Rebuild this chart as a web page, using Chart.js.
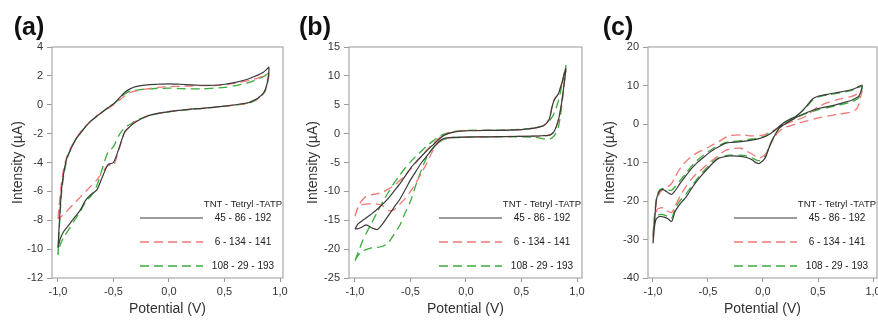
<!DOCTYPE html>
<html>
<head>
<meta charset="utf-8">
<script src="https://cdn.jsdelivr.net/npm/chart.js@4.4.1/dist/chart.umd.min.js"></script>
<style>
  body { margin: 0; background: #fff; }
  #wrap { position: relative; width: 878px; height: 320px; overflow: hidden; }
  canvas { position: absolute; top: 0; }
</style>
</head>
<body>
<div id="wrap">
  <canvas id="chartA" width="290" height="320" style="left:0px"></canvas>
  <canvas id="chartB" width="300" height="320" style="left:288px"></canvas>
  <canvas id="chartC" width="294" height="320" style="left:584px"></canvas>
</div>
<script>
// legend entries (TNT - Tetryl - TATP concentrations)
const legendTitle = 'TNT - Tetryl -TATP';
const seriesLabels = ['45 - 86 - 192', '6 - 134 - 141', '108 - 29 - 193'];

const xTicks = [-1, -0.5, 0, 0.5, 1];
const yTicksA = [-12, -10, -8, -6, -4, -2, 0, 2, 4];
const yTicksB = [-25, -20, -15, -10, -5, 0, 5, 10, 15];
const yTicksC = [-40, -30, -20, -10, 0, 10, 20];

// panel (a): potential sweep (V), forward then back
const potentialA = [-1.0, -0.99, -0.97, -0.95, -0.92, -0.88, -0.84, -0.8, -0.75, -0.7, -0.65, -0.6, -0.55, -0.5, -0.45, -0.4, -0.35, -0.3, -0.2, -0.1, 0, 0.1, 0.2, 0.3, 0.4, 0.5, 0.6, 0.7, 0.75, 0.8, 0.85, 0.88, 0.9,
  0.89, 0.87, 0.85, 0.8, 0.75, 0.7, 0.6, 0.5, 0.4, 0.3, 0.2, 0.1, 0, -0.1, -0.2, -0.3, -0.35, -0.4, -0.45, -0.5, -0.55, -0.6, -0.65, -0.7, -0.75, -0.8, -0.85, -0.9, -0.95, -0.98, -1.0];
const currentA1 = [-9.9, -8.5, -6.0, -4.8, -3.7, -3.0, -2.4, -2.0, -1.5, -1.1, -0.8, -0.5, -0.2, 0.05, 0.45, 0.85, 1.1, 1.25, 1.38, 1.42, 1.45, 1.42, 1.38, 1.35, 1.35, 1.42, 1.55, 1.75, 1.9, 2.05, 2.25, 2.45, 2.6,
  1.7, 1.1, 0.8, 0.45, 0.25, 0.12, 0.0, -0.1, -0.18, -0.25, -0.3, -0.38, -0.47, -0.6, -0.8, -1.2, -1.5, -1.9, -3.0, -4.0, -4.15, -5.0, -5.9, -6.2, -6.6, -7.3, -7.8, -8.3, -8.8, -9.3, -9.9];
const currentA2 = [-7.9, -7.0, -5.5, -4.5, -3.6, -2.9, -2.4, -1.9, -1.5, -1.1, -0.75, -0.5, -0.25, 0.0, 0.3, 0.6, 0.85, 0.95, 1.1, 1.2, 1.25, 1.28, 1.3, 1.33, 1.33, 1.38, 1.5, 1.65, 1.75, 1.85, 2.0, 2.1, 2.2,
  1.6, 1.1, 0.8, 0.42, 0.22, 0.1, 0.0, -0.1, -0.18, -0.25, -0.3, -0.38, -0.47, -0.6, -0.8, -1.15, -1.45, -1.9, -3.1, -4.2, -4.2, -4.7, -5.2, -5.6, -6.0, -6.4, -6.8, -7.2, -7.6, -7.8, -7.9];
const currentA3 = [-10.4, -8.8, -6.3, -5.0, -3.8, -3.0, -2.4, -1.95, -1.5, -1.1, -0.8, -0.5, -0.2, 0.05, 0.4, 0.75, 0.95, 1.0, 1.1, 1.13, 1.15, 1.12, 1.1, 1.1, 1.15, 1.2, 1.32, 1.5, 1.62, 1.78, 1.95, 2.1, 2.25,
  1.6, 1.0, 0.75, 0.4, 0.2, 0.08, -0.02, -0.1, -0.18, -0.25, -0.32, -0.4, -0.5, -0.62, -0.8, -1.1, -1.35, -1.6, -2.1, -2.9, -3.3, -4.4, -5.6, -6.3, -6.7, -7.4, -8.0, -8.6, -9.2, -9.7, -10.4];

// panel (b)
const potentialB = [-1.0, -0.97, -0.93, -0.9, -0.85, -0.8, -0.75, -0.7, -0.65, -0.6, -0.55, -0.5, -0.45, -0.4, -0.35, -0.3, -0.25, -0.2, -0.1, 0, 0.2, 0.4, 0.5, 0.6, 0.7, 0.75, 0.78, 0.8, 0.83, 0.86, 0.88, 0.9,
  0.89, 0.87, 0.85, 0.83, 0.8, 0.77, 0.74, 0.7, 0.6, 0.4, 0.2, 0, -0.1, -0.2, -0.25, -0.3, -0.35, -0.4, -0.45, -0.5, -0.55, -0.6, -0.65, -0.7, -0.75, -0.8, -0.85, -0.9, -0.95, -0.98, -1.0];
const currentB1 = [-16.5, -15.6, -15.0, -14.6, -13.9, -13.1, -12.2, -11.2, -10.0, -8.8, -7.4, -6.0, -4.9, -3.9, -2.9, -2.0, -1.1, -0.3, 0.3, 0.5, 0.55, 0.6, 0.7, 0.9, 1.4, 2.5, 5.0, 6.0, 6.8, 8.5, 10.0, 11.3,
  9.5, 6.5, 4.0, 2.2, 0.6, -0.1, -0.3, -0.35, -0.45, -0.5, -0.55, -0.6, -0.65, -0.85, -1.5, -2.6, -3.8, -5.0, -6.5, -8.0, -9.8, -11.5, -12.8, -14.2, -15.6, -16.6, -16.3, -15.8, -16.3, -16.5, -16.5];
const currentB2 = [-14.3, -12.5, -11.4, -10.9, -10.6, -10.4, -10.1, -9.6, -9.0, -8.2, -7.2, -6.2, -5.0, -3.9, -2.8, -1.8, -0.9, -0.2, 0.35, 0.5, 0.55, 0.6, 0.7, 0.9, 1.4, 2.6, 5.2, 6.1, 6.9, 8.5, 9.8, 11.0,
  9.4, 6.4, 4.0, 2.2, 0.6, -0.1, -0.3, -0.35, -0.45, -0.5, -0.55, -0.6, -0.65, -0.85, -1.6, -3.0, -5.0, -6.8, -8.5, -10.0, -11.3, -12.3, -13.2, -13.3, -12.5, -12.2, -12.1, -12.2, -12.4, -13.2, -14.3];
const currentB3 = [-22.0, -20.5, -18.5, -17.3, -15.5, -13.6, -11.8, -10.2, -8.6, -7.3, -6.0, -4.9, -3.9, -3.0, -2.1, -1.3, -0.6, -0.1, 0.4, 0.55, 0.6, 0.65, 0.75, 0.95, 1.4, 2.2, 3.0, 3.8, 5.5, 8.0, 10.0, 11.8,
  10.0, 6.0, 3.0, 1.0, -0.2, -0.8, -1.0, -0.9, -0.6, -0.55, -0.55, -0.6, -0.7, -1.0, -1.6, -2.5, -4.0, -6.2, -8.8, -11.7, -13.8, -16.0, -17.5, -18.9, -19.5, -19.7, -19.8, -20.1, -20.6, -21.3, -22.0];

// panel (c)
const potentialC = [-1.0, -0.99, -0.97, -0.95, -0.92, -0.89, -0.86, -0.83, -0.8, -0.75, -0.7, -0.65, -0.6, -0.55, -0.5, -0.45, -0.4, -0.35, -0.3, -0.2, -0.1, 0, 0.05, 0.1, 0.15, 0.2, 0.25, 0.3, 0.35, 0.4, 0.45, 0.5, 0.6, 0.7, 0.8, 0.85, 0.9,
  0.89, 0.87, 0.85, 0.8, 0.7, 0.6, 0.5, 0.4, 0.3, 0.2, 0.15, 0.1, 0.06, 0.02, -0.03, -0.06, -0.1, -0.15, -0.2, -0.3, -0.35, -0.4, -0.45, -0.5, -0.55, -0.6, -0.65, -0.7, -0.75, -0.8, -0.83, -0.87, -0.9, -0.93, -0.96, -0.98, -1.0];
const currentC1 = [-31, -27, -20, -17.9, -17.0, -17.3, -17.9, -18.3, -17.4, -15.3, -13.4, -11.6, -10.1, -8.9, -7.7, -6.7, -5.9, -5.1, -4.8, -4.6, -4.2, -3.5, -2.8, -1.8, -0.6, 0.6, 1.3, 2.0, 3.2, 4.8, 6.5, 7.2, 7.8, 8.3, 8.9, 9.4, 10.1,
  8.5, 7.2, 6.8, 6.1, 5.3, 4.6, 4.0, 3.0, 1.7, 0.0, -1.0, -3.3, -5.8, -8.8, -10.2, -10.1, -9.3, -8.7, -8.4, -8.3, -8.5, -8.9, -10.0, -11.5, -13.1, -14.8, -16.8, -19.0, -20.6, -22.8, -25.3, -24.5, -24.2, -24.0, -24.3, -25.5, -31];
const currentC2 = [-29.5, -25, -20.5, -18.5, -17.2, -16.7, -16.2, -15.4, -13.8, -11.4, -9.7, -8.5, -7.5, -6.8, -6.1, -5.3, -4.6, -3.6, -3.0, -2.8, -3.1, -2.9, -2.3, -1.6, -0.8, -0.1, 0.5, 1.0, 1.5, 2.2, 3.4, 4.5, 5.7, 6.5, 7.1, 7.7, 8.6,
  7.4, 5.0, 3.9, 3.1, 2.6, 2.1, 1.6, 0.8, 0.0, -0.9, -1.8, -3.6, -5.8, -7.9, -8.8, -8.5, -7.8, -7.0, -6.3, -6.5, -7.0, -8.1, -9.2, -10.3, -11.6, -12.8, -14.3, -16.2, -18.6, -21.4, -23.0, -22.6, -21.8, -21.8, -22.2, -24.0, -29.5];
const currentC3 = [-29, -25.5, -19.5, -17.6, -16.8, -16.9, -17.2, -17.2, -16.3, -14.6, -12.8, -11.0, -9.5, -8.3, -7.2, -6.3, -5.6, -4.9, -4.6, -4.3, -3.9, -3.3, -2.7, -1.8, -0.6, 0.4, 1.3, 2.1, 3.2, 4.6, 6.2, 7.0, 7.6, 8.1, 8.7, 9.2, 9.8,
  8.0, 6.8, 6.4, 5.7, 5.0, 4.3, 3.7, 2.8, 1.6, 0.0, -1.0, -3.2, -5.5, -8.3, -9.5, -9.4, -8.8, -8.3, -8.1, -8.1, -8.3, -8.7, -9.6, -11.0, -12.6, -14.3, -16.2, -18.2, -19.8, -22.0, -24.5, -24.0, -23.6, -23.5, -23.8, -25, -29];

Chart.defaults.font.family = '"Liberation Sans", Arial, sans-serif';
Chart.defaults.color = '#333';

const lineStyles = [
  { borderColor: '#3b3b3b', borderWidth: 1.2, borderDash: [] },
  { borderColor: '#f27777', borderWidth: 1.3, borderDash: [9, 5] },
  { borderColor: '#3aad3a', borderWidth: 1.3, borderDash: [9, 5] }
];

const framePlugin = {
  id: 'frame',
  afterDraw(chart) {
    const { ctx, chartArea: a } = chart;
    ctx.save();
    ctx.strokeStyle = '#a8a8a8';
    ctx.lineWidth = 1.2;
    ctx.strokeRect(a.left, a.top, a.right - a.left, a.bottom - a.top);
    ctx.restore();
  }
};

const cvLegend = {
  id: 'cvLegend',
  afterDatasetsDraw(chart) {
    const { ctx, chartArea: { right, bottom } } = chart;
    const cx = right - 40;
    ctx.save();
    ctx.fillStyle = '#222';
    ctx.textAlign = 'center';
    ctx.textBaseline = 'middle';
    ctx.font = '9.5px "Liberation Sans", Arial, sans-serif';
    ctx.fillText(legendTitle, cx, bottom - 74);
    ctx.font = '10px "Liberation Sans", Arial, sans-serif';
    chart.data.datasets.forEach((ds, i) => {
      const y = bottom - 60 + i * 24;
      ctx.strokeStyle = ds.borderColor;
      ctx.lineWidth = ds.borderWidth;
      ctx.setLineDash(ds.borderDash);
      ctx.beginPath();
      ctx.moveTo(right - 143, y);
      ctx.lineTo(right - 80, y);
      ctx.stroke();
      ctx.setLineDash([]);
      ctx.fillText(ds.label, cx, y);
    });
    ctx.restore();
  }
};

const panelLabel = {
  id: 'panelLabel',
  afterDraw(chart, args, opts) {
    const ctx = chart.ctx;
    ctx.save();
    ctx.fillStyle = '#111';
    ctx.font = 'bold 25px "Liberation Sans", Arial, sans-serif';
    ctx.textAlign = 'center';
    ctx.textBaseline = 'middle';
    ctx.fillText(opts.text, opts.x, 28);
    ctx.restore();
  }
};

function makePanel(id, label, labelX, potential, currents, yTicks, xMin, xMax, yWidth, padRight, yTitlePad) {
  const datasets = currents.map((vals, k) => ({
    label: seriesLabels[k],
    data: potential.map((x, i) => ({ x: x, y: vals[i] })),
    showLine: true,
    pointRadius: 0,
    tension: 0.25,
    fill: false,
    ...lineStyles[k]
  }));

  new Chart(document.getElementById(id), {
    type: 'scatter',
    data: { datasets: datasets },
    plugins: [framePlugin, cvLegend, panelLabel],
    options: {
      responsive: false,
      animation: false,
      layout: { padding: { left: 0, top: 47, right: padRight, bottom: 0 } },
      plugins: {
        legend: { display: false },
        tooltip: { enabled: false },
        panelLabel: { text: label, x: labelX }
      },
      scales: {
        x: {
          type: 'linear',
          min: xMin,
          max: xMax,
          afterBuildTicks: (s) => { s.ticks = xTicks.map(v => ({ value: v })); },
          afterFit: (s) => { s.height = 42; s.paddingLeft = 0; s.paddingRight = 0; },
          ticks: {
            autoSkip: false,
            maxRotation: 0,
            padding: 3,
            font: { size: 11 },
            callback: (v) => v.toFixed(1).replace('.', ',')
          },
          grid: { drawOnChartArea: false, tickLength: 4, color: '#999' },
          border: { display: false },
          title: { display: true, text: 'Potential (V)', font: { size: 14 }, color: '#333', padding: { top: 0, bottom: 2 } }
        },
        y: {
          type: 'linear',
          min: yTicks[0],
          max: yTicks[yTicks.length - 1],
          afterBuildTicks: (s) => { s.ticks = yTicks.map(v => ({ value: v })); },
          afterFit: (s) => { s.width = yWidth; s.paddingTop = 0; s.paddingBottom = 0; },
          ticks: { padding: 4, font: { size: 11 } },
          grid: { drawOnChartArea: false, tickLength: 5, color: '#999' },
          border: { display: false },
          title: { display: true, text: 'Intensity (µA)', font: { size: 14 }, color: '#333', padding: { top: yTitlePad, bottom: 0 } }
        }
      }
    }
  });
}

makePanel('chartA', '(a)', 29, potentialA, [currentA1, currentA2, currentA3], yTicksA, -1.054, 1.027, 52, 7, 10);
makePanel('chartB', '(b)', 27, potentialB, [currentB1, currentB2, currentB3], yTicksB, -1.054, 1.045, 61, 6, 17);
makePanel('chartC', '(c)', 34, potentialC, [currentC1, currentC2, currentC3], yTicksC, -1.045, 1.036, 64, 1, 18);
</script>
</body>
</html>
